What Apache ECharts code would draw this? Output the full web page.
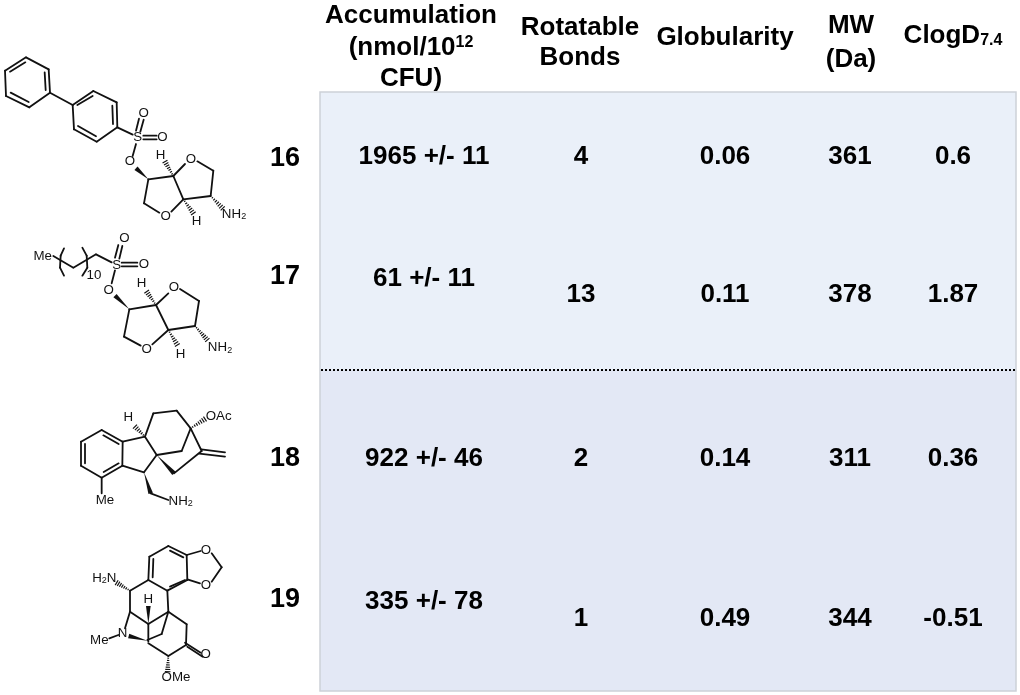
<!DOCTYPE html>
<html>
<head>
<meta charset="utf-8">
<script src="https://cdn.jsdelivr.net/npm/echarts@6/dist/echarts.min.js"></script>
<style>html,body{margin:0;padding:0;background:#fff}#main{width:1020px;height:695px}</style>
</head>
<body>
<div id="main"></div>
<script>
// table values
const compounds = ['16', '17', '18', '19'];
const accumulationMean = [1965, 61, 922, 335];
const accumulationErr = [11, 11, 46, 78];
const rotatableBonds = [4, 13, 2, 1];
const globularity = [0.06, 0.11, 0.14, 0.49];
const molWeight = [361, 378, 311, 344];
const clogD = [0.6, 1.87, 0.36, -0.51];

// layout, in page pixels
const colX = {compound: 285, accum: 424, rot: 581, glob: 725, mw: 850, clogd: 953};
const compoundY = [157, 275, 457, 598];
const accumY = [155, 277, 457, 600];
const metricY = [155, 293, 457, 617];
const headerCells = [
    [411, 14, 'Accumulation'], [411, 46, '(nmol/10{sup|12}'], [411, 77, 'CFU)'],
    [580, 26, 'Rotatable'], [580, 56, 'Bonds'],
    [725, 36, 'Globularity'],
    [851, 24, 'MW'], [851, 58, '(Da)'],
    [953, 34, 'ClogD{sub|7.4}']
];

const INK = '#111';

// one molecule drawing is written in 3x units (zoom crop) and scaled down by its group
function bond(p) {
    return {type: 'line', shape: {x1: p[0], y1: p[1], x2: p[2], y2: p[3]}, style: {stroke: INK, lineWidth: 5.4, lineCap: 'round'}, silent: true};
}

function wedge(x1, y1, x2, y2) {
    let dx = x2 - x1, dy = y2 - y1, len = Math.sqrt(dx * dx + dy * dy);
    let nx = -dy / len * 7, ny = dx / len * 7;
    return {type: 'polygon', shape: {points: [[x1, y1], [x2 + nx, y2 + ny], [x2 - nx, y2 - ny]]}, style: {fill: INK}, silent: true};
}

function hash(x1, y1, x2, y2) {
    let out = [];
    let dx = x2 - x1, dy = y2 - y1, len = Math.sqrt(dx * dx + dy * dy);
    let n = Math.round(len / 7);
    for (let i = 1; i <= n; i++) {
        let t = i / n;
        let cx = x1 + dx * t, cy = y1 + dy * t;
        let w = 1.5 + 7 * t;
        out.push({type: 'line', shape: {x1: cx - dy / len * w, y1: cy + dx / len * w, x2: cx + dy / len * w, y2: cy - dx / len * w},
            style: {stroke: INK, lineWidth: 3.5}, silent: true});
    }
    return out;
}

function atom(text, x, y) {
    return {type: 'text', silent: true, style: {
        text: text, x: x, y: y, align: 'center', verticalAlign: 'middle',
        fill: INK, font: '40px "Liberation Sans"',
        rich: {s: {font: '27px "Liberation Sans"', fill: INK, padding: [16, 0, 0, 0]}}
    }};
}

function molecule(x, y, bonds, wedges, hashes, atoms) {
    let children = bonds.map(bond);
    wedges.forEach(w => children.push(wedge(w[0], w[1], w[2], w[3])));
    hashes.forEach(h => { children = children.concat(hash(h[0], h[1], h[2], h[3])); });
    atoms.forEach(a => children.push(atom(a[0], a[1], a[2])));
    return {type: 'group', x: x, y: y, scaleX: 1 / 3, scaleY: 1 / 3, children: children};
}

const mol16 = molecule(0, 40, [
    [78, 52, 146, 88], [146, 88, 150, 158], [150, 158, 88, 202], [88, 202, 18, 168], [18, 168, 15, 92], [15, 92, 78, 52],
    [30, 95, 76, 67], [134, 97, 137, 150], [32, 158, 86, 186],
    [150, 158, 218, 195],
    [218, 195, 280, 153], [280, 153, 350, 187], [350, 187, 352, 262], [352, 262, 290, 305], [290, 305, 222, 268], [222, 268, 218, 195],
    [232, 195, 278, 168], [337, 197, 339, 252], [234, 258, 288, 289],
    [352, 262, 398, 284],
    [408, 272, 417, 236], [421, 275, 431, 239],
    [430, 287, 470, 287], [430, 298, 470, 298],
    [408, 312, 398, 348],
    [445, 418, 520, 408], [520, 408, 555, 372], [592, 364, 640, 392], [640, 392, 632, 468], [632, 468, 550, 478],
    [550, 478, 520, 408], [550, 478, 514, 515], [478, 518, 432, 490], [432, 490, 445, 418]
], [[445, 418, 408, 385]], [[520, 408, 495, 365], [550, 478, 580, 520], [632, 468, 668, 505]], [
    ['S', 413, 292], ['O', 431, 220], ['O', 487, 292], ['O', 390, 365], ['H', 482, 345], ['O', 573, 358],
    ['O', 497, 530], ['H', 590, 543], ['NH{s|2}', 702, 522]
]);

const mol17 = molecule(20, 225, [
    [100, 93, 160, 128], [160, 128, 228, 88], [228, 88, 275, 112],
    [285, 98, 295, 60], [298, 101, 307, 63],
    [305, 113, 352, 113], [305, 124, 352, 124],
    [285, 136, 275, 175],
    [328, 253, 408, 240], [408, 240, 445, 205], [480, 192, 537, 228], [537, 228, 525, 303], [525, 303, 445, 315],
    [445, 315, 408, 240], [445, 315, 397, 358], [362, 362, 312, 335], [312, 335, 328, 253],
    // repeat brackets
    [132, 70, 122, 92], [122, 92, 120, 128], [120, 128, 132, 152],
    [187, 68, 200, 92], [200, 92, 202, 128], [202, 128, 187, 152]
], [[328, 253, 285, 212]], [[408, 240, 380, 200], [445, 315, 472, 360], [525, 303, 562, 345]], [
    ['Me', 68, 95], ['S', 290, 120], ['O', 313, 40], ['O', 372, 118], ['O', 266, 195], ['H', 365, 175],
    ['O', 462, 187], ['O', 380, 372], ['H', 482, 388], ['NH{s|2}', 600, 368], ['10', 222, 150]
]);

const mol18 = molecule(60, 395, [
    [125, 105, 188, 140], [188, 140, 187, 212], [187, 212, 125, 248], [125, 248, 63, 212], [63, 212, 63, 140], [63, 140, 125, 105],
    [75, 147, 75, 205], [130, 121, 176, 147], [176, 205, 131, 231],
    [188, 140, 255, 125], [255, 125, 290, 180], [290, 180, 252, 232], [252, 232, 187, 212],
    [255, 125, 280, 55], [280, 55, 350, 47], [350, 47, 392, 100], [392, 100, 365, 168], [290, 180, 365, 168],
    [392, 100, 425, 168], [425, 168, 342, 235],
    [424, 163, 495, 172], [418, 176, 495, 185],
    [125, 248, 125, 295], [272, 295, 325, 315]
], [[290, 180, 342, 235], [252, 232, 272, 295]], [[255, 125, 225, 95], [392, 100, 435, 72]], [
    ['H', 205, 68], ['OAc', 476, 65], ['Me', 135, 315], ['NH{s|2}', 362, 318]
]);

const mol19 = molecule(70, 530, [
    [235, 150, 238, 80], [238, 80, 295, 48], [295, 48, 350, 75], [350, 75, 352, 150], [352, 150, 292, 182], [292, 182, 235, 150],
    [250, 87, 248, 142], [300, 62, 340, 82], [345, 150, 300, 170],
    [350, 75, 392, 63], [425, 70, 455, 112], [455, 112, 425, 155], [390, 160, 352, 148],
    [235, 150, 180, 182], [180, 182, 180, 245], [292, 182, 295, 245],
    [180, 245, 235, 282], [235, 282, 295, 245], [295, 245, 350, 283], [350, 283, 348, 345],
    [348, 345, 295, 378], [295, 378, 235, 340],
    [345, 338, 392, 368], [352, 350, 398, 380],
    [180, 245, 165, 295], [145, 315, 118, 325], [232, 330, 275, 312], [275, 312, 295, 245], [235, 282, 235, 335]
], [[235, 282, 235, 228], [232, 332, 176, 318]], [[180, 182, 140, 158], [295, 378, 293, 425]], [
    ['H{s|2}N', 103, 145], ['H', 235, 208], ['O', 408, 60], ['O', 408, 165], ['O', 407, 373],
    ['N', 158, 310], ['Me', 88, 330], ['OMe', 318, 442]
]);

function cell(x, y, text) {
    return {value: [x, y], name: text};
}

const valueCells = [];
compounds.forEach((c, i) => {
    valueCells.push(cell(colX.accum, accumY[i], accumulationMean[i] + ' +/- ' + accumulationErr[i]));
    valueCells.push(cell(colX.rot, metricY[i], String(rotatableBonds[i])));
    valueCells.push(cell(colX.glob, metricY[i], globularity[i].toFixed(2)));
    valueCells.push(cell(colX.mw, metricY[i], String(molWeight[i])));
    valueCells.push(cell(colX.clogd, metricY[i], String(clogD[i])));
});

const textLabel = {
    show: true, position: 'inside', offset: [0, 2], color: '#000', fontFamily: 'Liberation Sans', fontWeight: 'bold', fontSize: 26,
    formatter: p => p.name,
    rich: {
        sup: {fontFamily: 'Liberation Sans', fontWeight: 'bold', fontSize: 16, color: '#000', padding: [0, 0, 10, 0]},
        sub: {fontFamily: 'Liberation Sans', fontWeight: 'bold', fontSize: 16, color: '#000', padding: [10, 0, 0, 0]}
    }
};

const chart = echarts.init(document.getElementById('main'));
chart.setOption({
    animation: false,
    backgroundColor: '#fff',
    grid: {left: 0, right: 0, top: 0, bottom: 0},
    xAxis: {type: 'value', min: 0, max: 1020, show: false},
    yAxis: {type: 'value', min: 0, max: 695, inverse: true, show: false},
    graphic: [
        {type: 'rect', z: -2, shape: {x: 320, y: 92, width: 696, height: 278}, style: {fill: '#EAF0F9'}, silent: true},
        {type: 'rect', z: -2, shape: {x: 320, y: 370, width: 696, height: 321}, style: {fill: '#E3E8F5'}, silent: true},
        {type: 'rect', z: -1, shape: {x: 320, y: 92, width: 696, height: 599}, style: {fill: 'none', stroke: '#CDD1D8', lineWidth: 1.5}, silent: true},
        {type: 'line', z: -1, shape: {x1: 321, y1: 370, x2: 1016, y2: 370}, style: {stroke: '#000', lineWidth: 2, lineDash: [2, 2]}, silent: true},
        mol16, mol17, mol18, mol19
    ],
    series: [
        {name: 'headers', type: 'scatter', symbolSize: 0, silent: true, itemStyle: {opacity: 1}, label: textLabel,
            data: headerCells.map(h => cell(h[0], h[1], h[2]))},
        {name: 'compounds', type: 'scatter', symbolSize: 0, silent: true, itemStyle: {opacity: 1}, label: Object.assign({}, textLabel, {fontSize: 27}),
            data: compounds.map((c, i) => cell(colX.compound, compoundY[i], c))},
        {name: 'values', type: 'scatter', symbolSize: 0, silent: true, itemStyle: {opacity: 1}, label: textLabel, data: valueCells}
    ]
});
</script>
</body>
</html>
